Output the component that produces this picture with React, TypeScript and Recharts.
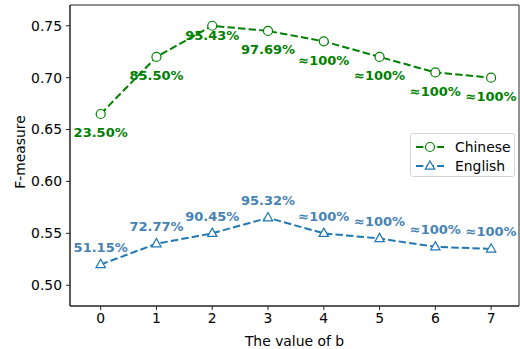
import { LineChart, Line, XAxis, YAxis, LabelList, ReferenceArea } from 'recharts';

const bValues = [0, 1, 2, 3, 4, 5, 6, 7];
const chinese = [0.665, 0.72, 0.75, 0.745, 0.735, 0.72, 0.705, 0.7];
const english = [0.52, 0.54, 0.55, 0.565, 0.55, 0.545, 0.537, 0.535];
const chineseLabels = ['23.50%', '85.50%', '95.43%', '97.69%', '≈100%', '≈100%', '≈100%', '≈100%'];
const englishLabels = ['51.15%', '72.77%', '90.45%', '95.32%', '≈100%', '≈100%', '≈100%', '≈100%'];
const yTicks = [0.5, 0.55, 0.6, 0.65, 0.7, 0.75];

const GREEN = '#008000';
const BLUE = '#1f77b4';
const BLUE_TEXT = '#4682b4';
const FONT = 'DejaVu Sans, sans-serif';
const FS = 13.9;
const DASH = '7.4 3.2';

const data = bValues.map((b, i) => ({
  b,
  chinese: chinese[i],
  english: english[i],
  chLabel: chineseLabels[i],
  enLabel: englishLabels[i],
}));

const CircleDot = (props: any) => {
  const { cx, cy } = props;
  if (cx == null || cy == null) return null;
  return <circle cx={cx} cy={cy} r={4.5} fill="#fff" stroke={GREEN} strokeWidth={1.2} />;
};

const TriangleDot = (props: any) => {
  const { cx, cy } = props;
  if (cx == null || cy == null) return null;
  const r = 5.2;
  return (
    <path
      d={`M${cx},${cy - r} L${cx + r * 0.9},${cy + r * 0.6} L${cx - r * 0.9},${cy + r * 0.6} Z`}
      fill="#fff"
      stroke={BLUE}
      strokeWidth={1.2}
    />
  );
};

// the label of b=2 sits closer to its point in the original
const chLabel = (props: any) => {
  const { x, y, value, index } = props;
  const dy = index === 2 ? 10 : 19;
  return (
    <text x={x} y={y + dy} textAnchor="middle" dominantBaseline="central"
      fill={GREEN} fontSize={13} fontWeight="bold" fontFamily={FONT}>
      {value}
    </text>
  );
};

const enLabel = (props: any) => {
  const { x, y, value } = props;
  return (
    <text x={x} y={y - 17} textAnchor="middle" dominantBaseline="central"
      fill={BLUE_TEXT} fontSize={13} fontWeight="bold" fontFamily={FONT}>
      {value}
    </text>
  );
};

const LegendBox = () => (
  <div style={{
    position: 'absolute', left: 410, top: 133, width: 105, height: 44, boxSizing: 'border-box',
    border: '1px solid #d5d5d5', borderRadius: 3, background: '#fff',
    padding: '3px 0 0 5px', fontFamily: FONT, fontSize: FS, color: '#000',
  }}>
    {[
      { name: 'Chinese', color: GREEN, tri: false },
      { name: 'English', color: BLUE, tri: true },
    ].map((e) => (
      <div key={e.name} style={{ display: 'flex', alignItems: 'center', height: 19 }}>
        <svg width={28} height={14} style={{ marginRight: 11 }}>
          <line x1={0} y1={7} x2={28} y2={7} stroke={e.color} strokeWidth={2} strokeDasharray={DASH} />
          {e.tri ? (
            <path d="M14,2 L18.7,10.2 L9.3,10.2 Z" fill="#fff" stroke={e.color} strokeWidth={1.2} />
          ) : (
            <circle cx={14} cy={7} r={4.5} fill="#fff" stroke={e.color} strokeWidth={1.2} />
          )}
        </svg>
        <span>{e.name}</span>
      </div>
    ))}
  </div>
);

export default function App() {
  return (
    <div style={{ position: 'absolute', left: 0, top: 0, width: 520, height: 349 }}>
      <LineChart
        width={520}
        height={349}
        data={data}
        margin={{ top: 5, right: 1, left: 0, bottom: 0 }}
      >
        <XAxis
          dataKey="b"
          type="number"
          domain={[-0.55, 7.5]}
          ticks={bValues}
          allowDataOverflow
          height={43}
          tickSize={4}
          tickMargin={3}
          stroke="#222"
          tick={{ fill: '#000', fontSize: FS, fontFamily: FONT }}
          label={{ value: 'The value of b', position: 'insideBottom', offset: 3, fill: '#000', fontSize: FS, fontFamily: FONT }}
        />
        <YAxis
          type="number"
          domain={[0.48, 0.77]}
          ticks={yTicks}
          allowDataOverflow
          width={70}
          tickSize={4}
          tickMargin={4}
          stroke="#222"
          tickFormatter={(v: number) => v.toFixed(2)}
          tick={{ fill: '#000', fontSize: FS, fontFamily: FONT }}
          label={{
            content: () => (
              <text x={20} y={152} transform="rotate(-90 20 152)" textAnchor="middle"
                dominantBaseline="central" fill="#000" fontSize={FS} fontFamily={FONT}>
                F-measure
              </text>
            ),
          }}
        />
        <ReferenceArea x1={-0.55} x2={7.5} y1={0.48} y2={0.77} fill="none" stroke="#222" strokeWidth={1} ifOverflow="visible" />
        <Line
          dataKey="chinese"
          name="Chinese"
          stroke={GREEN}
          strokeWidth={2}
          strokeDasharray={DASH}
          dot={<CircleDot />}
          activeDot={false}
          isAnimationActive={false}
        >
          <LabelList dataKey="chLabel" content={chLabel} />
        </Line>
        <Line
          dataKey="english"
          name="English"
          stroke={BLUE}
          strokeWidth={2}
          strokeDasharray={DASH}
          dot={<TriangleDot />}
          activeDot={false}
          isAnimationActive={false}
        >
          <LabelList dataKey="enLabel" content={enLabel} />
        </Line>
      </LineChart>
      <LegendBox />
    </div>
  );
}
